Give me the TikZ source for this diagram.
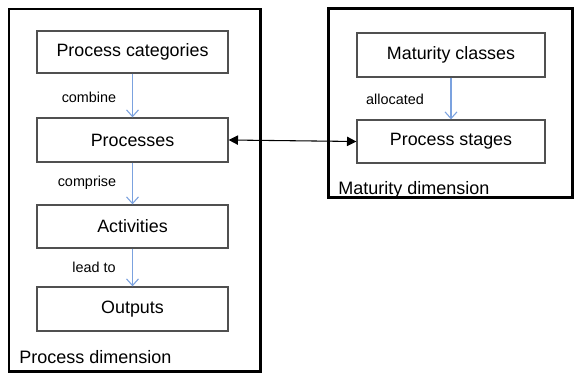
\documentclass[tikz,border=0pt]{standalone}
\usepackage{fontspec}
\setmainfont{Liberation Sans}
\usetikzlibrary{arrows.meta}
\definecolor{arrowblue}{HTML}{7BA2DF}
\definecolor{boxgray}{HTML}{505050}
\begin{document}
\begin{tikzpicture}[x=0.75pt,y=-0.75pt,
  outer/.style={draw=black,line width=2.2pt},
  inbox/.style={draw=boxgray,line width=1pt,fill=white,inner sep=0pt,font=\fontsize{13.4}{15}\selectfont},
  flow/.style={draw=arrowblue,line width=0.8pt,-{Straight Barb[length=5pt,width=9pt]}},
  lbl/.style={font=\fontsize{10.8}{12}\selectfont,inner sep=0pt},
  dimlbl/.style={font=\fontsize{13.5}{15}\selectfont,inner sep=0pt,anchor=west},
  link/.style={draw=black,line width=0.8pt,{Triangle[length=7pt,width=7pt]}-{Triangle[length=7pt,width=7pt]}}]
\useasboundingbox (0,0) rectangle (577,373);
\fill[white] (0,0) rectangle (577,373);
% outer frames
\node[outer,minimum width=251.5*0.75pt,minimum height=362.5*0.75pt,inner sep=0pt] (pdim) at (134.75,190.25) {};
\node[outer,minimum width=244*0.75pt,minimum height=188.5*0.75pt,inner sep=0pt] (mdim) at (450.5,103) {};
% process dimension boxes
\node[inbox,minimum width=191*0.75pt,minimum height=42*0.75pt] (pc) at (132.5,52) {Process categories};
\node[inbox,minimum width=191*0.75pt,minimum height=44*0.75pt] (pr) at (132.5,140) {Processes};
\node[inbox,minimum width=191*0.75pt,minimum height=43*0.75pt] (ac) at (132.5,226.5) {Activities};
\node[inbox,minimum width=191*0.75pt,minimum height=44*0.75pt] (ou) at (132.5,309) {Outputs};
% maturity dimension boxes
\node[inbox,minimum width=188*0.75pt,minimum height=44*0.75pt] (mc) at (451,55) {Maturity classes};
\node[inbox,minimum width=188*0.75pt,minimum height=43*0.75pt] (ps) at (451,141.5) {Process stages};
% flows
\draw[flow] (pc.south) -- (pr.north);
\draw[flow] (pr.south) -- (ac.north);
\draw[flow] (ac.south) -- (ou.north);
\draw[flow] (mc.south) -- (ps.north);
\draw[link] (pr.east) -- (ps.west);
% labels
\node[lbl] (l1) at (89,97) {combine};
\node[lbl] (l2) at (87,183) {comprise};
\node[lbl] (l3) at (94,267) {lead to};
\node[lbl] (l4) at (395,99) {allocated};
\node[dimlbl] (d1) at (19,357) {Process dimension};
\node[dimlbl] (d2) at (338,190) {Maturity\ dimension};
\end{tikzpicture}
\end{document}
